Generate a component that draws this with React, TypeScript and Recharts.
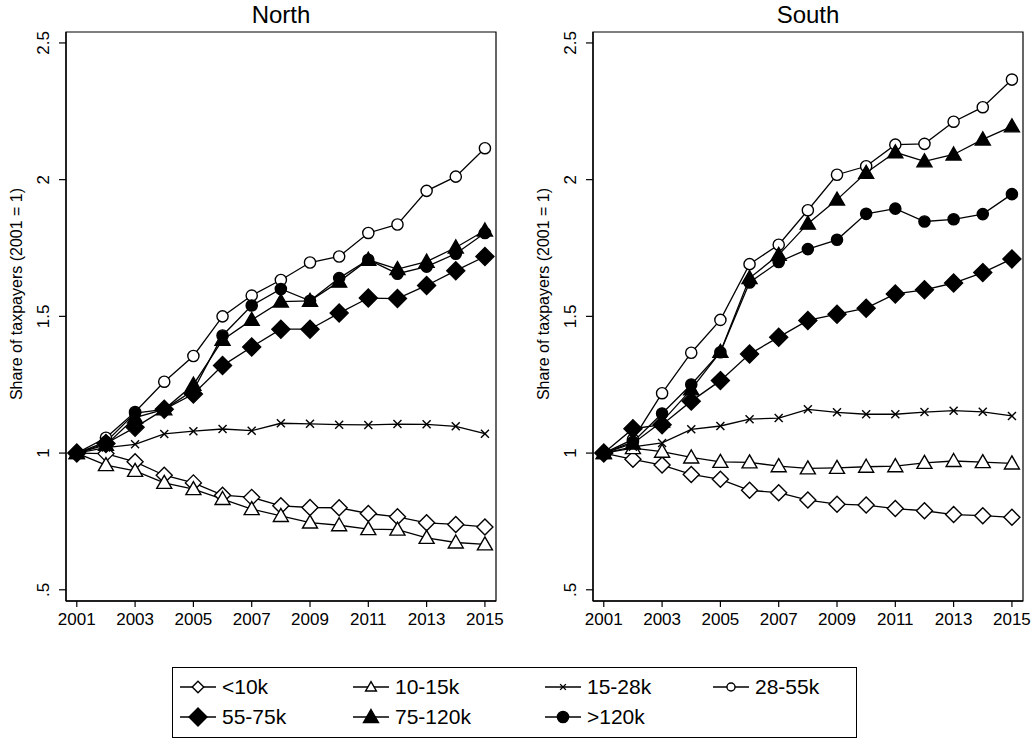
import React from "react";
import { LineChart, Line, XAxis, YAxis, ReferenceArea } from "recharts";

const years = [2001, 2002, 2003, 2004, 2005, 2006, 2007, 2008, 2009, 2010, 2011, 2012, 2013, 2014, 2015];
const xTicks = [2001, 2003, 2005, 2007, 2009, 2011, 2013, 2015];
const yTicks = [0.5, 1, 1.5, 2, 2.5];

// North
const northLt10k = [1, 0.998, 0.968, 0.919, 0.891, 0.846, 0.838, 0.807, 0.801, 0.8, 0.779, 0.767, 0.745, 0.739, 0.73];
const north10to15k = [1, 0.956, 0.935, 0.891, 0.868, 0.832, 0.795, 0.77, 0.746, 0.736, 0.722, 0.72, 0.69, 0.673, 0.666];
const north15to28k = [1, 1.02, 1.032, 1.07, 1.08, 1.088, 1.082, 1.109, 1.107, 1.104, 1.103, 1.106, 1.105, 1.098, 1.071];
const north28to55k = [1, 1.056, 1.15, 1.261, 1.355, 1.5, 1.576, 1.633, 1.697, 1.719, 1.805, 1.836, 1.959, 2.011, 2.115];
const north55to75k = [1, 1.035, 1.094, 1.16, 1.216, 1.32, 1.388, 1.453, 1.453, 1.512, 1.567, 1.565, 1.613, 1.667, 1.719];
const north75to120k = [1, 1.03, 1.13, 1.16, 1.25, 1.414, 1.487, 1.554, 1.557, 1.627, 1.707, 1.673, 1.7, 1.752, 1.814];
const northGt120k = [1, 1.041, 1.146, 1.16, 1.23, 1.43, 1.54, 1.6, 1.557, 1.64, 1.707, 1.656, 1.682, 1.729, 1.805];

// South
const southLt10k = [1, 0.977, 0.956, 0.922, 0.904, 0.864, 0.855, 0.828, 0.813, 0.81, 0.797, 0.789, 0.775, 0.771, 0.765];
const south10to15k = [1, 1.018, 1.005, 0.984, 0.968, 0.966, 0.952, 0.944, 0.946, 0.95, 0.952, 0.964, 0.971, 0.967, 0.962];
const south15to28k = [1, 1.023, 1.037, 1.087, 1.099, 1.124, 1.128, 1.16, 1.149, 1.142, 1.142, 1.15, 1.155, 1.151, 1.136];
const south28to55k = [1, 1.05, 1.219, 1.367, 1.487, 1.691, 1.762, 1.888, 2.018, 2.049, 2.128, 2.131, 2.212, 2.265, 2.366];
const south55to75k = [1, 1.089, 1.104, 1.19, 1.265, 1.362, 1.424, 1.485, 1.508, 1.53, 1.582, 1.597, 1.622, 1.66, 1.71];
const south75to120k = [1, 1.035, 1.115, 1.233, 1.37, 1.64, 1.725, 1.839, 1.927, 2.025, 2.1, 2.067, 2.092, 2.147, 2.195];
const southGt120k = [1, 1.041, 1.145, 1.251, 1.369, 1.624, 1.699, 1.746, 1.78, 1.875, 1.894, 1.847, 1.855, 1.874, 1.947];

const FONT = '"Liberation Sans", Arial, Helvetica, sans-serif';
const X_DOMAIN = [2000.63, 2015.38];
const Y_DOMAIN = [0.459, 2.54];

type Shape = "diamondOpen" | "triangleOpen" | "cross" | "circleOpen" | "diamond" | "triangle" | "circle";

const series: { key: string; name: string; shape: Shape }[] = [
  { key: "lt10k", name: "<10k", shape: "diamondOpen" },
  { key: "k10_15", name: "10-15k", shape: "triangleOpen" },
  { key: "k15_28", name: "15-28k", shape: "cross" },
  { key: "k28_55", name: "28-55k", shape: "circleOpen" },
  { key: "k55_75", name: "55-75k", shape: "diamond" },
  { key: "k75_120", name: "75-120k", shape: "triangle" },
  { key: "gt120k", name: ">120k", shape: "circle" },
];

const buildRows = (cols: number[][]) =>
  years.map((year, i) => {
    const row: Record<string, number> = { year };
    series.forEach((s, j) => (row[s.key] = cols[j][i]));
    return row;
  });

const northData = buildRows([northLt10k, north10to15k, north15to28k, north28to55k, north55to75k, north75to120k, northGt120k]);
const southData = buildRows([southLt10k, south10to15k, south15to28k, south28to55k, south55to75k, south75to120k, southGt120k]);

const Marker = ({ shape, cx, cy, scale = 1 }: { shape: Shape; cx: number; cy: number; scale?: number }) => {
  const sw = 1.4;
  if (shape === "diamondOpen" || shape === "diamond") {
    const h = (shape === "diamond" ? 9 : 8) * scale;
    return (
      <polygon
        points={`${cx},${cy - h} ${cx + h},${cy} ${cx},${cy + h} ${cx - h},${cy}`}
        fill={shape === "diamond" ? "#000" : "#fff"}
        stroke="#000"
        strokeWidth={sw}
      />
    );
  }
  if (shape === "triangleOpen" || shape === "triangle") {
    const w = 7.5 * scale;
    return (
      <polygon
        points={`${cx},${cy - 7.5 * scale} ${cx + w},${cy + 5.5 * scale} ${cx - w},${cy + 5.5 * scale}`}
        fill={shape === "triangle" ? "#000" : "#fff"}
        stroke="#000"
        strokeWidth={sw}
      />
    );
  }
  if (shape === "cross") {
    const d = 4 * scale;
    return (
      <g stroke="#000" strokeWidth={sw}>
        <line x1={cx - d} y1={cy - d} x2={cx + d} y2={cy + d} />
        <line x1={cx - d} y1={cy + d} x2={cx + d} y2={cy - d} />
      </g>
    );
  }
  return <circle cx={cx} cy={cy} r={5.6 * scale} fill={shape === "circle" ? "#000" : "#fff"} stroke="#000" strokeWidth={sw} />;
};

const fmtY = (v: number) => (v === 0.5 ? ".5" : String(v));

// tick labels sit rotated, centred 22px left of the axis line
const YTick = (props: any) => {
  const { y, payload } = props;
  const x = 44;
  return (
    <text
      x={x}
      y={y}
      transform={`rotate(-90 ${x} ${y})`}
      textAnchor="middle"
      dominantBaseline="central"
      fontSize={17}
      fontFamily={FONT}
      fill="#000"
    >
      {fmtY(payload.value)}
    </text>
  );
};

const Panel = ({ title, data, left, width }: { title: string; data: any[]; left: number; width: number }) => (
  <div style={{ position: "absolute", left, top: 0, width, height: 650 }}>
    <LineChart width={width} height={650} data={data} margin={{ top: 32, right: width - 496, bottom: 19, left: 0 }}>
      <XAxis
        dataKey="year"
        type="number"
        domain={X_DOMAIN}
        ticks={xTicks}
        interval={0}
        allowDataOverflow
        height={30}
        tickSize={6}
        tickMargin={6}
        tick={{ fontSize: 17, fill: "#000", fontFamily: FONT }}
        axisLine={{ stroke: "#000", strokeWidth: 1.3 }}
        tickLine={{ stroke: "#000", strokeWidth: 1.2 }}
      />
      <YAxis
        type="number"
        domain={Y_DOMAIN}
        ticks={yTicks}
        interval={0}
        allowDataOverflow
        width={66}
        tickSize={7}
        tickMargin={15}
        tick={<YTick />}
        axisLine={{ stroke: "#000", strokeWidth: 1.3 }}
        tickLine={{ stroke: "#000", strokeWidth: 1.2 }}
      />
      <ReferenceArea x1={X_DOMAIN[0]} x2={X_DOMAIN[1]} y1={Y_DOMAIN[0]} y2={Y_DOMAIN[1]} fill="none" stroke="#000" strokeWidth={1.2} ifOverflow="visible" />
      {series.map((s) => (
        <Line
          key={s.key}
          dataKey={s.key}
          name={s.name}
          type="linear"
          stroke="#000"
          strokeWidth={1.3}
          isAnimationActive={false}
          dot={(p: any) => <Marker key={`${s.key}-${p.index}`} shape={s.shape} cx={p.cx} cy={p.cy} />}
          activeDot={false}
        />
      ))}
    </LineChart>
    <div
      style={{
        position: "absolute",
        left: 281,
        top: 15,
        transform: "translate(-50%, -50%)",
        fontFamily: FONT,
        fontSize: 24,
        whiteSpace: "nowrap",
      }}
    >
      {title}
    </div>
    <div
      style={{
        position: "absolute",
        left: 17,
        top: 294,
        transform: "translate(-50%, -50%) rotate(-90deg)",
        fontFamily: FONT,
        fontSize: 16,
        whiteSpace: "nowrap",
      }}
    >
      Share of taxpayers (2001 = 1)
    </div>
  </div>
);

const legendCols = [180, 353, 545, 713];
const legendRows = [687, 717];

const Legend = () => (
  <div
    style={{
      position: "absolute",
      left: 172,
      top: 667,
      width: 685,
      height: 71,
      border: "1px solid #000",
      boxSizing: "border-box",
    }}
  >
    {series.map((s, i) => {
      const col = i < 4 ? i : i - 4;
      const row = i < 4 ? 0 : 1;
      const small = row === 0 ? 0.72 : 1;
      return (
        <div
          key={s.key}
          style={{
            position: "absolute",
            left: legendCols[col] - 173,
            top: legendRows[row] - 668 - 15,
            height: 30,
            display: "flex",
            alignItems: "center",
            fontFamily: FONT,
            fontSize: 21,
            whiteSpace: "nowrap",
          }}
        >
          <svg width={38} height={30} style={{ marginRight: 4 }}>
            <line x1={0} y1={15} x2={36} y2={15} stroke="#000" strokeWidth={1.4} />
            <Marker shape={s.shape} cx={18} cy={15} scale={small} />
          </svg>
          <span>{s.name}</span>
        </div>
      );
    })}
  </div>
);

export default function App() {
  return (
    <div style={{ position: "absolute", left: 0, top: 0, width: 1033, height: 745, background: "#fff", overflow: "hidden" }}>
      <Panel title="North" data={northData} left={0} width={520} />
      <Panel title="South" data={southData} left={527} width={506} />
      <Legend />
    </div>
  );
}
